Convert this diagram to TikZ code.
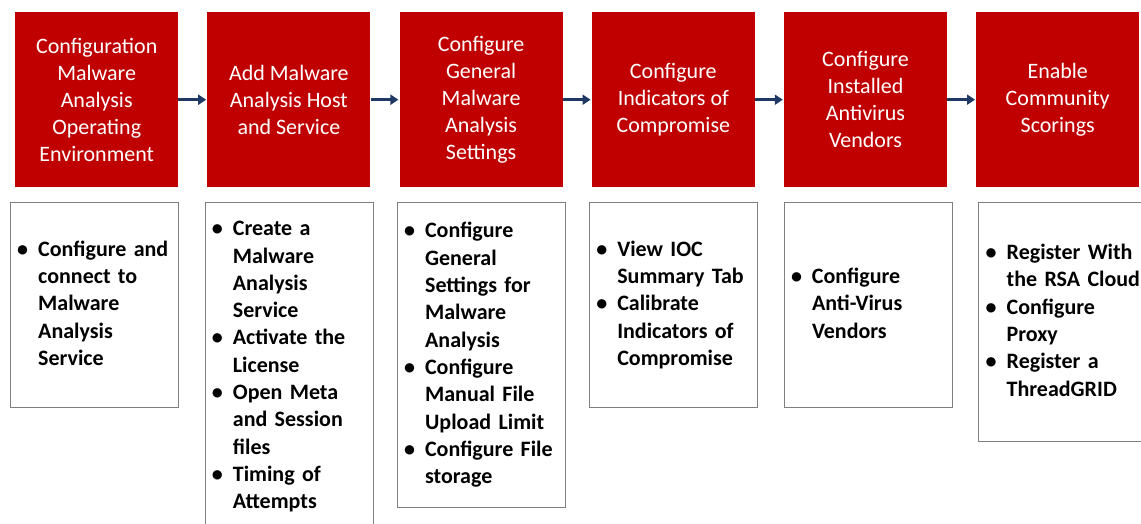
\documentclass[tikz,border=0pt]{standalone}
\usepackage{fontspec}
\setmainfont{Carlito}
\usetikzlibrary{arrows.meta, positioning}
\definecolor{stepred}{HTML}{C00000}
\definecolor{flownavy}{HTML}{1F3864}
\definecolor{notegray}{HTML}{7F7F7F}
\newcommand{\bl}{\textbullet}

\begin{document}
\begin{tikzpicture}[
    x=1pt, y=1pt,
    node distance=15pt and 28.8pt,
    stepbox/.style={fill=stepred, draw=none, minimum width=163pt, minimum height=175pt,
                    inner sep=0pt, text=white, align=center, font=\fontsize{22}{27}\selectfont},
    notebox/.style={draw=notegray, line width=0.8pt, fill=white, text width=154pt,
                    inner xsep=7pt, inner ysep=0pt, align=left,
                    font=\fontsize{22}{27.3}\selectfont\bfseries},
    arr/.style={-{Triangle[length=8pt, width=10pt]}, line width=2.8pt, draw=flownavy, shorten >=1pt},
]
\useasboundingbox (0,0) rectangle (1141,-524);

% Steps
\node[stepbox, anchor=north west] (s1) at (15,-12) {Configuration\\Malware\\Analysis\\Operating\\Environment};
\node[stepbox, right=of s1] (s2) {Add Malware\\Analysis Host\\and Service};
\node[stepbox, right=of s2] (s3) {Configure\\General\\Malware\\Analysis\\Settings};
\node[stepbox, right=of s3] (s4) {Configure\\Indicators of\\Compromise};
\node[stepbox, right=of s4] (s5) {Configure\\Installed\\Antivirus\\Vendors};
\node[stepbox, right=of s5] (s6) {Enable\\Community\\Scorings};

% Task lists
\node[notebox, minimum height=205pt, below=of s1, xshift=-2.5pt] (n1) {%
  \begin{tabular}{@{}p{21pt}@{}l@{}}
  \bl & Configure and\\ & connect to\\ & Malware\\ & Analysis\\ & Service
  \end{tabular}};
\node[notebox, minimum height=328pt, below=of s2] (n2) {%
  \begin{tabular}{@{}p{21pt}@{}l@{}}
  \bl & Create a\\ & Malware\\ & Analysis\\ & Service\\
  \bl & Activate the\\ & License\\
  \bl & Open Meta\\ & and Session\\ & files\\
  \bl & Timing of\\ & Attempts
  \end{tabular}};
\node[notebox, minimum height=305pt, below=of s3] (n3) {%
  \begin{tabular}{@{}p{21pt}@{}l@{}}
  \bl & Configure\\ & General\\ & Settings for\\ & Malware\\ & Analysis\\
  \bl & Configure\\ & Manual File\\ & Upload Limit\\
  \bl & Configure File\\ & storage
  \end{tabular}};
\node[notebox, minimum height=205pt, below=of s4] (n4) {%
  \begin{tabular}{@{}p{21pt}@{}l@{}}
  \bl & View IOC\\ & Summary Tab\\
  \bl & Calibrate\\ & Indicators of\\ & Compromise
  \end{tabular}};
\node[notebox, minimum height=205pt, below=of s5, xshift=2.5pt] (n5) {%
  \begin{tabular}{@{}p{21pt}@{}l@{}}
  \bl & Configure\\ & Anti-Virus\\ & Vendors
  \end{tabular}};
\node[notebox, minimum height=239pt, below=of s6, xshift=5pt] (n6) {%
  \begin{tabular}{@{}p{21pt}@{}l@{}}
  \bl & Register With\\ & the RSA Cloud\\
  \bl & Configure\\ & Proxy\\
  \bl & Register a\\ & ThreadGRID
  \end{tabular}};

% Flow
\draw[arr] (s1) -- (s2);
\draw[arr] (s2) -- (s3);
\draw[arr] (s3) -- (s4);
\draw[arr] (s4) -- (s5);
\draw[arr] (s5) -- (s6);

\end{tikzpicture}
\end{document}
